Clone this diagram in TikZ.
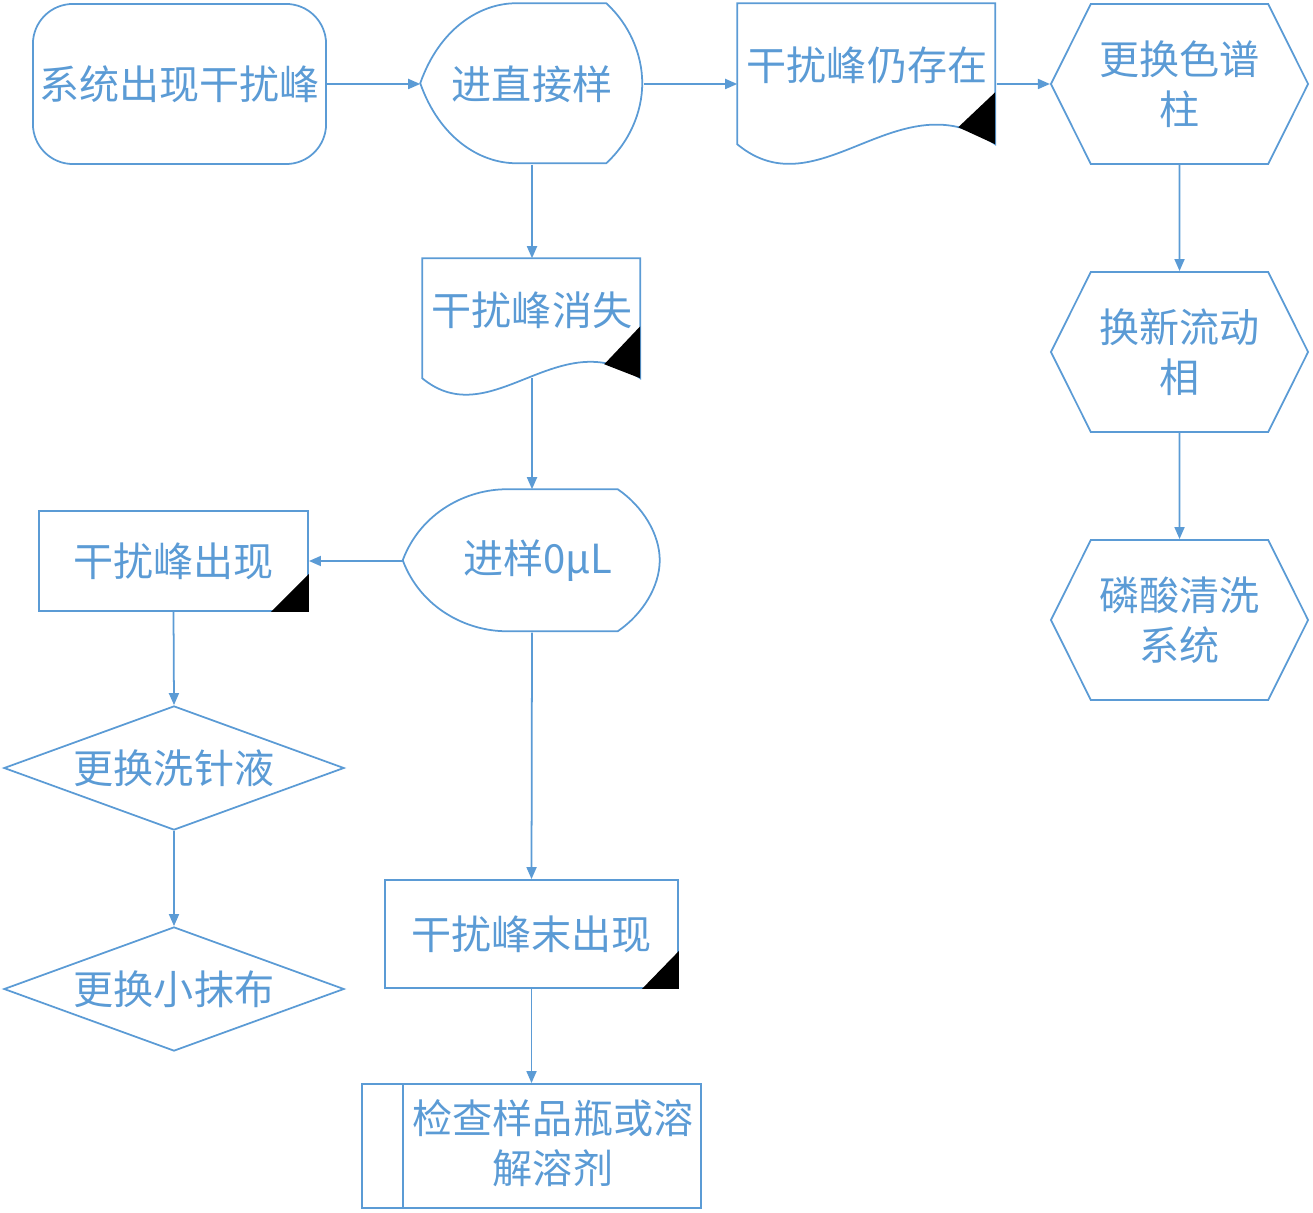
\documentclass[tikz,border=0pt]{standalone}
\usepackage{fontspec}
\setmainfont{Noto Sans CJK SC}
\usetikzlibrary{arrows.meta,calc,shapes.geometric,shapes.symbols}
\definecolor{flowblue}{HTML}{5B9BD5}

\tikzset{
    every node/.style={text=flowblue, align=center, inner sep=0pt,
        font=\fontsize{11.4}{14.2}\selectfont},
    box/.style={draw=flowblue, line width=0.5pt},
    hexbox/.style={box, signal, signal to=east and west,
        signal pointer angle=127, minimum width=2.57cm, minimum height=1.6cm},
    diamondbox/.style={box, diamond, aspect=2.74,
        minimum width=3.4cm, minimum height=1.24cm},
    flow/.style={draw=flowblue, line width=0.5pt,
        -{Triangle[length=1.2mm, width=1mm]}}
}

\begin{document}
\begin{tikzpicture}[x=0.01cm, y=-0.01cm]
    \useasboundingbox (0,0) rectangle (1313,1213);

    % top row
    \node[box, rounded corners=0.4cm, minimum width=2.93cm, minimum height=1.6cm]
        (sys) at (179.5,84) {系统出现干扰峰};
    \node[minimum width=2.22cm, minimum height=1.6cm] (direct) at (532,84) {进直接样};
    \draw[box, shift={(direct.north west)}] (0,80)
        .. controls (19,26) and (59,0) .. (96,0) -- (186,0)
        .. controls (209,21) and (222,51) .. (222,80)
        .. controls (222,109) and (209,139) .. (186,160) -- (96,160)
        .. controls (59,160) and (19,134) .. (0,80) -- cycle;
    \node[minimum width=2.58cm, minimum height=1.6cm] (still) at (867,84) {};
    \node (still-t) at (867,65) {干扰峰仍存在};
    \draw[box, shift={(still.north west)}] (0,141)
        .. controls (82,209) and (162,73) .. (258,141) -- (258,0) -- (0,0) -- cycle;
    \fill[shift={(still.north west)}] (258,89) -- (258,141) -- (221,124) -- cycle;

    % right column
    \node[hexbox] (col) at (1179.5,84) {更换色谱\\柱};
    \node[hexbox] (phase) at (1179.5,352) {换新流动\\相};
    \node[hexbox] (acid) at (1179.5,620) {磷酸清洗\\系统};

    % middle column
    \node[minimum width=2.18cm, minimum height=1.36cm] (gone) at (532,327) {};
    \node (gone-t) at (532,310) {干扰峰消失};
    \draw[box, shift={(gone.north west)}] (0,120)
        .. controls (69,177) and (137,63) .. (218,120) -- (218,0) -- (0,0) -- cycle;
    \fill[shift={(gone.north west)}] (218,68) -- (218,120) -- (182,106) -- cycle;
    \coordinate (gone-w) at ($(gone.north)+(0,120)$);

    \node[minimum width=2.57cm, minimum height=1.42cm] (sample) at (532,561) {};
    \node (sample-t) at (538,561) {进样0μL};
    \draw[box, shift={(sample.north west)}] (0,71)
        .. controls (18,23) and (64,0) .. (104,0) -- (215,0)
        .. controls (240,17) and (257,45) .. (257,71)
        .. controls (257,97) and (240,125) .. (215,142) -- (104,142)
        .. controls (64,142) and (18,119) .. (0,71) -- cycle;

    \node[box, minimum width=2.93cm, minimum height=1.08cm] (notyet) at (531.5,934) {干扰峰末出现};
    \fill[shift={(notyet.south east)}] (0,-38) -- (0,0) -- (-37,0) -- cycle;

    \node[box, minimum width=3.39cm, minimum height=1.24cm] (chk) at (531.5,1146) {};
    \draw[box] ($(chk.north west)+(42,0)$) -- ($(chk.south west)+(42,0)$);
    \node (chk-t) at (553,1143) {检查样品瓶或溶\\解溶剂};

    % left column
    \node[box, minimum width=2.69cm, minimum height=1cm] (appear) at (173.5,561) {干扰峰出现};
    \fill[shift={(appear.south east)}] (0,-38) -- (0,0) -- (-38,0) -- cycle;
    \node[diamondbox] (wash) at (174,768) {更换洗针液};
    \node[diamondbox] (cloth) at (174,989) {更换小抹布};

    % connectors
    \draw[flow] (sys.east) -- (direct.west);
    \draw[flow] (direct.east) -- (still.west);
    \draw[flow] (still.east) -- (col);
    \draw[flow] (col) -- (phase);
    \draw[flow] (phase) -- (acid);
    \draw[flow] (direct.south) -- (gone.north);
    \draw[flow] (gone-w) -- (sample.north);
    \draw[flow] (sample.west) -- (appear.east);
    \draw[flow] (sample.south) -- (notyet.north);
    \draw[flow] (notyet.south) -- (chk.north);
    \draw[flow] (appear.south) -- (wash.north);
    \draw[flow] (wash.south) -- (cloth.north);
\end{tikzpicture}
\end{document}
